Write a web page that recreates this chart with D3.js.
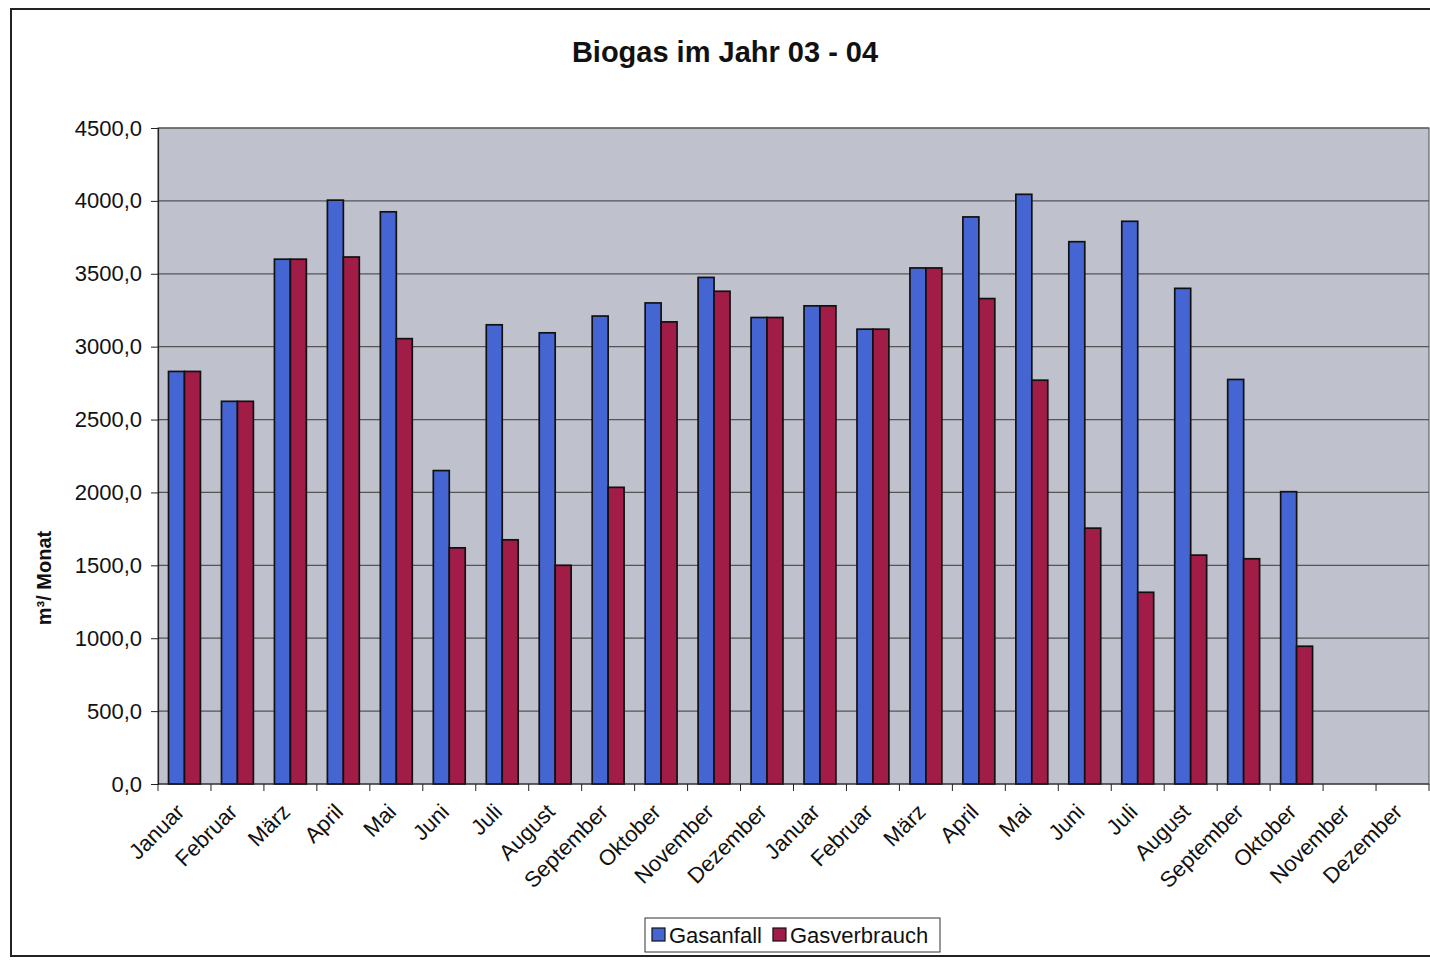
<!DOCTYPE html>
<html>
<head>
<meta charset="utf-8">
<script src="https://cdn.jsdelivr.net/npm/d3@7"></script>
<style>
  html, body { margin: 0; padding: 0; background: #ffffff; }
  svg { display: block; font-family: Arial, "Liberation Sans", sans-serif; }
</style>
</head>
<body>
<svg id="chart" width="1430" height="960"></svg>
<script>
// Monthly biogas production and consumption, two years in a row
const months = ["Januar", "Februar", "März", "April", "Mai", "Juni", "Juli", "August",
  "September", "Oktober", "November", "Dezember",
  "Januar", "Februar", "März", "April", "Mai", "Juni", "Juli", "August",
  "September", "Oktober", "November", "Dezember"];
const seriesNames = ["Gasanfall", "Gasverbrauch"];
const gasanfall = [2830, 2625, 3600, 4005, 3925, 2150, 3150, 3095, 3210, 3300, 3475, 3200,
  3280, 3120, 3540, 3890, 4045, 3720, 3860, 3400, 2775, 2005, null, null];
const gasverbrauch = [2830, 2625, 3600, 3615, 3055, 1620, 1675, 1500, 2035, 3170, 3380, 3200,
  3280, 3120, 3540, 3330, 2770, 1755, 1315, 1570, 1545, 945, null, null];
const yTicks = [0, 500, 1000, 1500, 2000, 2500, 3000, 3500, 4000, 4500];

const colors = { "Gasanfall": "#4566d2", "Gasverbrauch": "#a11d48" };

const svg = d3.select("#chart");
const plot = { left: 158, right: 1429, top: 128, bottom: 784 };

// Outer chart frame
svg.append("rect")
  .attr("x", 11).attr("y", 9)
  .attr("width", 1450).attr("height", 947)
  .attr("fill", "#ffffff").attr("stroke", "#222").attr("stroke-width", 2);

// Title
svg.append("text")
  .attr("x", 725).attr("y", 62)
  .attr("text-anchor", "middle")
  .attr("font-size", 29).attr("font-weight", "bold").attr("fill", "#111")
  .text("Biogas im Jahr 03 - 04");

// Scales
const x = d3.scaleBand().domain(d3.range(months.length))
  .range([plot.left, plot.right]).padding(0);
const x1 = d3.scaleBand().domain(seriesNames)
  .range([0, x.bandwidth()]).paddingInner(0).paddingOuter(0.66);
const y = d3.scaleLinear().domain([0, 4500]).range([plot.bottom, plot.top]);

// Plot background
svg.append("rect")
  .attr("x", plot.left).attr("y", plot.top)
  .attr("width", plot.right - plot.left).attr("height", plot.bottom - plot.top)
  .attr("fill", "#bfc1cd").attr("stroke", "#666").attr("stroke-width", 1.2);

// Horizontal gridlines
svg.append("g").selectAll("line")
  .data(yTicks.filter(v => v > 0))
  .join("line")
  .attr("x1", plot.left).attr("x2", plot.right)
  .attr("y1", d => y(d)).attr("y2", d => y(d))
  .attr("stroke", "#555").attr("stroke-width", 1.2);

// Bars
const rows = months.map((m, i) => ({ i, values: [
  { key: "Gasanfall", v: gasanfall[i] },
  { key: "Gasverbrauch", v: gasverbrauch[i] }
]}));

const groups = svg.append("g").selectAll("g")
  .data(rows).join("g")
  .attr("transform", d => `translate(${x(d.i)},0)`);

groups.selectAll("rect")
  .data(d => d.values.filter(s => s.v != null))
  .join("rect")
  .attr("x", s => x1(s.key))
  .attr("width", x1.bandwidth())
  .attr("y", s => y(s.v))
  .attr("height", s => y(0) - y(s.v))
  .attr("fill", s => colors[s.key])
  .attr("stroke", "#111").attr("stroke-width", 1.7);

// Y axis
const yAxis = d3.axisLeft(y).tickValues(yTicks).tickSize(7).tickPadding(9)
  .tickFormat(d => d3.format(".1f")(d).replace(".", ","));
const gy = svg.append("g").attr("transform", `translate(${plot.left},0)`).call(yAxis);
gy.select(".domain").attr("stroke", "#222").attr("stroke-width", 1.2);
gy.selectAll(".tick line").attr("stroke", "#222");
gy.selectAll(".tick text").attr("font-size", 22).attr("fill", "#111")
  .attr("font-family", "Arial, 'Liberation Sans', sans-serif");

// X axis: ticks on category boundaries
const gx = svg.append("g").attr("transform", `translate(0,${plot.bottom})`);
gx.append("line")
  .attr("x1", plot.left).attr("x2", plot.right)
  .attr("stroke", "#222").attr("stroke-width", 1.2);
gx.selectAll("line.tk")
  .data(d3.range(months.length + 1))
  .join("line").attr("class", "tk")
  .attr("x1", i => plot.left + i * x.step()).attr("x2", i => plot.left + i * x.step())
  .attr("y1", 0).attr("y2", 7)
  .attr("stroke", "#222");
gx.selectAll("text")
  .data(months)
  .join("text")
  .attr("transform", (m, i) => `translate(${x(i) + x.bandwidth() / 2 - 10},${18}) rotate(-45)`)
  .attr("text-anchor", "end")
  .attr("dy", "0.72em")
  .attr("font-size", 22).attr("fill", "#111")
  .text(m => m);

// Y axis title
svg.append("text")
  .attr("transform", "translate(51,578) rotate(-90)")
  .attr("text-anchor", "middle")
  .attr("font-size", 20).attr("font-weight", "bold").attr("fill", "#111")
  .text("m³/ Monat");

// Legend
const legend = svg.append("g").attr("transform", "translate(645,918)");
legend.append("rect")
  .attr("width", 295).attr("height", 34)
  .attr("fill", "#ffffff").attr("stroke", "#333").attr("stroke-width", 1);
let lx = 7;
seriesNames.forEach(name => {
  legend.append("rect")
    .attr("x", lx).attr("y", 10).attr("width", 13).attr("height", 13)
    .attr("fill", colors[name]).attr("stroke", "#111").attr("stroke-width", 1.2);
  const t = legend.append("text")
    .attr("x", lx + 17).attr("y", 25)
    .attr("font-size", 22).attr("fill", "#111")
    .text(name);
  lx += 17 + t.node().getComputedTextLength() + 11;
});
</script>
</body>
</html>
